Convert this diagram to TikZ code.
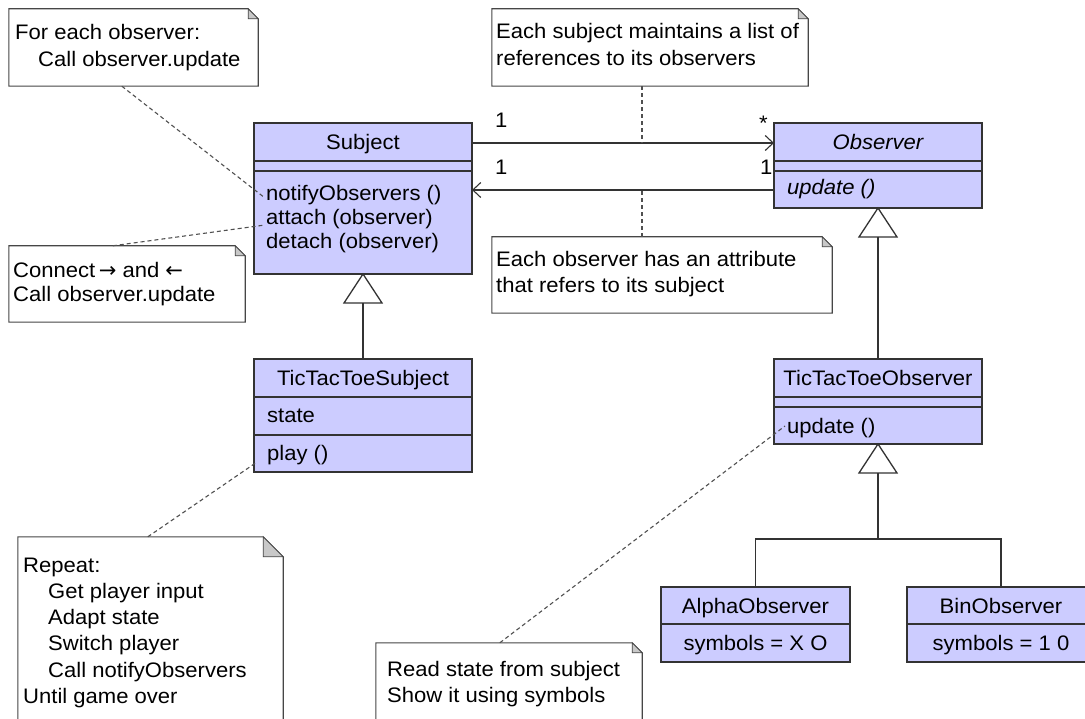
\documentclass[tikz,border=0pt]{standalone}
\usepackage{fontspec}
\setmainfont[FakeStretch=1.05]{Liberation Sans}
\newfontfamily\arrowfont{DejaVu Sans}
\usetikzlibrary{arrows.meta,calc,fit}
\definecolor{classfill}{RGB}{204,204,255}
\definecolor{linec}{RGB}{51,51,51}
\definecolor{notec}{RGB}{70,70,70}
\definecolor{foldc}{RGB}{200,200,200}
\definecolor{dashc}{RGB}{80,80,80}
\newcommand\notebox[6]{%
  \node[fit={(#2,#3) (#4,#5)}, inner sep=0pt] (#1) {};
  \draw[notec, line width=1.1pt, fill=white] (#1.north west) -- ([xshift=-#6pt]#1.north east) -- ([yshift=-#6pt]#1.north east) -- (#1.south east) -- (#1.south west) -- cycle;
  \draw[notec, line width=0.8pt, fill=foldc] ([xshift=-#6pt]#1.north east) -- ([xshift=-#6pt,yshift=-#6pt]#1.north east) -- ([yshift=-#6pt]#1.north east) -- cycle;
}
\begin{document}
\begin{tikzpicture}[x=1pt,y=-1pt,
  every node/.style={font=\fontsize{21}{25}\selectfont, text=black},
  cls/.style={draw=linec, fill=classfill, line width=1.3pt, rectangle, inner sep=0pt, outer sep=0pt, anchor=north west},
  line/.style={draw=linec, line width=1.3pt},
  txt/.style={inner sep=0pt, anchor=base west},
  ctxt/.style={inner sep=0pt, anchor=base},
  dashline/.style={draw=dashc, line width=1.1pt, dash pattern=on 4pt off 3pt},
  assoc/.style={line, -{Straight Barb[length=8pt,width=15pt,line width=1.1pt]}}]
\useasboundingbox (0,0) rectangle (1085,719);
\clip (0,0) rectangle (1085,719);
\fill[white] (0,0) rectangle (1085,719);

% ---------- notes ----------
\notebox{n1}{9}{9}{258}{86}{10}
\node[txt] (n1a) at (15,40) {For each observer:};
\node[txt] (n1b) at (38,67) {Call observer.update};

\notebox{n2}{492}{9}{808}{86}{10}
\node[txt] (n2a) at (496,39) {Each subject maintains a list of};
\node[txt] (n2b) at (496,66) {references to its observers};

\notebox{n3}{492}{237}{832}{313}{10}
\node[txt] (n3a) at (496,267) {Each observer has an attribute};
\node[txt] (n3b) at (496,293) {that refers to its subject};

\notebox{n4}{9}{246}{245}{322}{10}
\node[txt] (n4a) at (13,278) {Connect{\arrowfont\,→} and {\arrowfont←}};
\node[txt] (n4b) at (13,302) {Call observer.update};

\notebox{n5}{18}{537}{283}{760}{20}
\node[txt] (n5a) at (23,572) {Repeat:};
\node[txt] (n5b) at (48,598) {Get player input};
\node[txt] (n5c) at (48,624) {Adapt state};
\node[txt] (n5d) at (48,650) {Switch player};
\node[txt] (n5e) at (48,677) {Call notifyObservers};
\node[txt] (n5f) at (23,703) {Until game over};

\notebox{n6}{376}{643}{642}{760}{10}
\node[txt] (n6a) at (387,676) {Read state from subject};
\node[txt] (n6b) at (387,702) {Show it using symbols};

% ---------- classes ----------
\node[cls, minimum width=218pt, minimum height=151pt] (subj) at (254,123) {};
\draw[line] (subj.west |- 0,161) -- (subj.east |- 0,161);
\draw[line] (subj.west |- 0,171) -- (subj.east |- 0,171);
\node[ctxt] (subjT) at (363,150) {Subject};
\node[txt] (mNotify) at (266,201) {notifyObservers ()};
\node[txt] (mAttach) at (266,225) {attach (observer)};
\node[txt] (mDetach) at (266,249) {detach (observer)};

\node[cls, minimum width=208pt, minimum height=85pt] (obs) at (774,123) {};
\draw[line] (obs.west |- 0,161) -- (obs.east |- 0,161);
\draw[line] (obs.west |- 0,171) -- (obs.east |- 0,171);
\node[ctxt] (obsT) at (878,150) {\itshape Observer};
\node[txt] (oUpdate) at (787,195) {\itshape update ()};

\node[cls, minimum width=218pt, minimum height=113pt] (tts) at (254,359) {};
\draw[line] (tts.west |- 0,397) -- (tts.east |- 0,397);
\draw[line] (tts.west |- 0,435) -- (tts.east |- 0,435);
\node[ctxt] (ttsT) at (363,385) {TicTacToeSubject};
\node[txt] (sState) at (267,423) {state};
\node[txt] (sPlay) at (267,460) {play ()};

\node[cls, minimum width=208pt, minimum height=85pt] (tto) at (774,359) {};
\draw[line] (tto.west |- 0,397) -- (tto.east |- 0,397);
\draw[line] (tto.west |- 0,407) -- (tto.east |- 0,407);
\node[ctxt] (ttoT) at (878,385) {TicTacToeObserver};
\node[txt] (tUpdate) at (787,433) {update ()};

\node[cls, minimum width=189pt, minimum height=75pt] (alpha) at (661,587) {};
\draw[line] (alpha.west |- 0,624) -- (alpha.east |- 0,624);
\node[ctxt] (alphaT) at (755.5,613) {AlphaObserver};
\node[ctxt] (alphaS) at (755.5,650) {symbols = X O};

\node[cls, minimum width=188pt, minimum height=75pt] (bin) at (907,587) {};
\draw[line] (bin.west |- 0,624) -- (bin.east |- 0,624);
\node[ctxt] (binT) at (1001,613) {BinObserver};
\node[ctxt] (binS) at (1001,650) {symbols = 1 0};

% ---------- associations ----------
\draw[assoc] (subj.east |- 0,143) -- (obs.west |- 0,143);
\draw[assoc] (obs.west |- 0,190) -- (subj.east |- 0,190);
\node[txt] (m1) at (495,128) {1};
\node[txt] (m2) at (759,131) {*};
\node[txt] (m3) at (495,175) {1};
\node[txt] (m4) at (760,175) {1};

% ---------- generalizations ----------
\draw[line, fill=white] (subj.south) -- ++(-19,29) -- ++(38,0) -- cycle;
\draw[line] ([yshift=-29pt]subj.south) -- (tts.north);
\draw[line, fill=white] (obs.south) -- ++(-19,29) -- ++(38,0) -- cycle;
\draw[line] ([yshift=-29pt]obs.south) -- (tto.north);
\draw[line, fill=white] (tto.south) -- ++(-19,29) -- ++(38,0) -- cycle;
\coordinate (bar) at ([yshift=-95pt]tto.south);
\draw[line] ([yshift=-29pt]tto.south) -- (bar);
\draw[line] (alpha.north) |- (bar) -| (bin.north);

% ---------- note anchors ----------
\coordinate (pNotify) at (265,198);
\coordinate (pAttach) at (265,225);
\coordinate (pAssocTop) at (642,143);
\coordinate (pAssocBot) at (642,190);
\coordinate (pPlay) at (257,462);
\coordinate (pUpdate) at (785,426);
\draw[dashline] ([xshift=113pt]n1.south west) -- (pNotify);
\draw[dashline] ([xshift=104pt]n4.north west) -- (pAttach);
\draw[dashline] (n2.south west -| pAssocTop) -- (pAssocTop);
\draw[dashline] (n3.north west -| pAssocBot) -- (pAssocBot);
\draw[dashline] ([xshift=130pt]n5.north west) -- (pPlay);
\draw[dashline] ([xshift=124pt]n6.north west) -- (pUpdate);
\end{tikzpicture}
\end{document}
